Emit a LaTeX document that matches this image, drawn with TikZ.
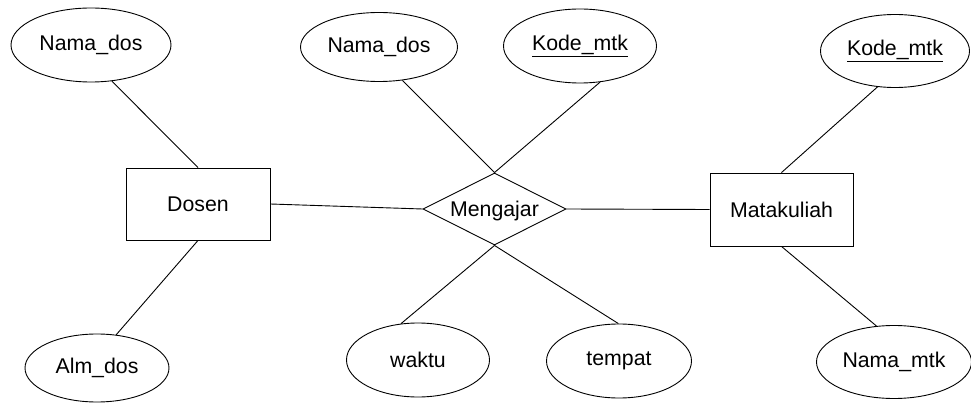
\documentclass[tikz,border=0pt]{standalone}
\usepackage{fontspec}
\setmainfont{Liberation Sans}
\usetikzlibrary{shapes.geometric}
\begin{document}
\begin{tikzpicture}[x=1pt,y=-1pt,
  every node/.style={font=\fontsize{21.3}{25}\selectfont},
  attr/.style={ellipse,draw,line width=0.9pt,inner sep=0pt},
  ent/.style={rectangle,draw,line width=0.9pt,inner sep=0pt,minimum width=144pt,minimum height=72pt},
  rel/.style={diamond,draw,line width=0.9pt,inner sep=0pt,minimum width=143pt,minimum height=72pt},
  link/.style={line width=0.9pt}]
\useasboundingbox (0,0) rectangle (971,403);
\node[ent] (dosen) at (198,204) {Dosen};
\node[ent,minimum width=143pt,minimum height=73pt] (mk) at (781.5,209.5) {Matakuliah};
\node[rel] (ajar) at (494.5,209) {\smash{\raisebox{-0.36em}{\makebox[0pt]{Mengajar}}}};
\node[attr,minimum width=160pt,minimum height=74pt] (nd1) at (91,45) {Nama\_dos};
\node[attr,minimum width=144pt,minimum height=68pt] (ad) at (97,368) {Alm\_dos};
\node[attr,minimum width=157pt,minimum height=69pt] (nd2) at (379,47) {Nama\_dos};
\node[attr,minimum width=153pt,minimum height=74pt] (km1) at (580,46) {\underline{Kode\_mtk}};
\node[attr,minimum width=149pt,minimum height=73pt] (km2) at (895,51) {\underline{Kode\_mtk}};
\node[attr,minimum width=155pt,minimum height=73pt] (nm) at (894,362) {Nama\_mtk};
\node[attr,minimum width=143pt,minimum height=74pt] (wk) at (418,360) {waktu};
\node[attr,minimum width=145pt,minimum height=74pt] (tp) at (619,361) {tempat};
\draw[link] (nd1.-60) -- (dosen.north);
\draw[link] (ad.60) -- (dosen.south);
\draw[link] (dosen.east) -- (ajar.west);
\draw[link] (ajar.east) -- (mk.west);
\draw[link] (nd2.-55) -- (ajar.north);
\draw[link] (km1.-61) -- (ajar.north);
\draw[link] (km2.-116) -- (mk.north);
\draw[link] (nm.116) -- (mk.south);
\draw[link] (wk.115) -- (ajar.south);
\draw[link] (tp.91) -- (ajar.south);
\end{tikzpicture}
\end{document}
